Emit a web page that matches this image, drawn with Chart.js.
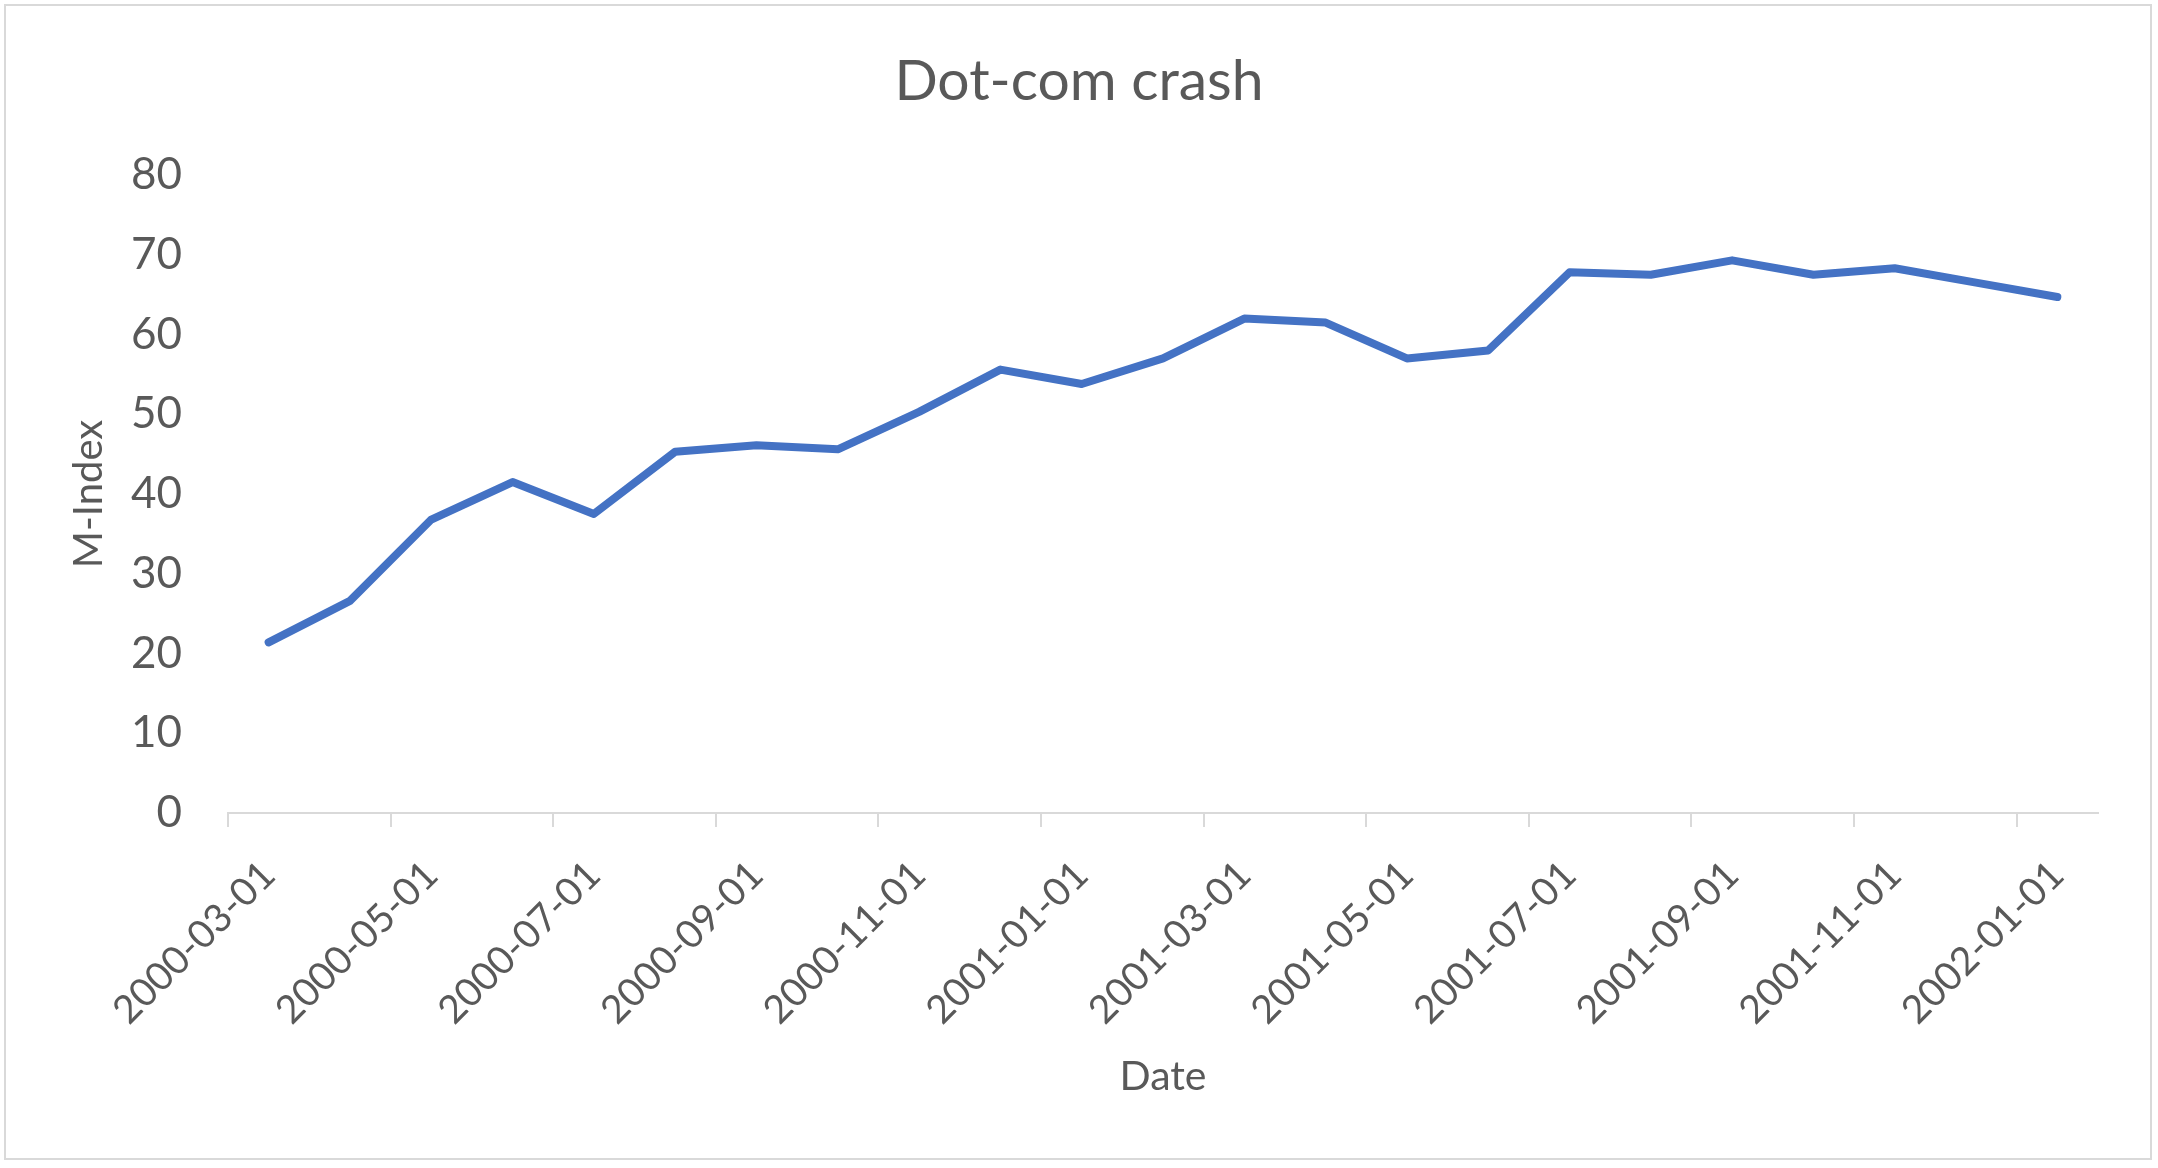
<!DOCTYPE html>
<html>
<head>
<meta charset="utf-8">
<title>Dot-com crash</title>
<script src="https://cdn.jsdelivr.net/npm/chart.js@4.4.1/dist/chart.umd.min.js"></script>
<style>
  html, body { margin: 0; padding: 0; background: #fff; overflow: hidden; }
  #wrap { position: relative; width: 2158px; height: 1168px; }
  #frame {
    position: absolute; left: 4px; top: 4px; width: 2144px; height: 1152px;
    border: 2px solid #d9d9d9; pointer-events: none;
  }
  canvas { position: absolute; left: 0; top: 0; }
</style>
</head>
<body>
<div id="wrap">
  <canvas id="chart" width="2158" height="1168"></canvas>
  <div id="frame"></div>
</div>
<script>
// ── Data ─────────────────────────────────────────────────────
const dates = [
  '2000-03-01', '2000-04-01', '2000-05-01', '2000-06-01', '2000-07-01', '2000-08-01',
  '2000-09-01', '2000-10-01', '2000-11-01', '2000-12-01', '2001-01-01', '2001-02-01',
  '2001-03-01', '2001-04-01', '2001-05-01', '2001-06-01', '2001-07-01', '2001-08-01',
  '2001-09-01', '2001-10-01', '2001-11-01', '2001-12-01', '2002-01-01'
];
const mIndex = [
  21.4, 26.6, 36.8, 41.5, 37.5, 45.3,
  46.1, 45.6, 50.3, 55.6, 53.8, 57.0,
  62.0, 61.5, 57.0, 58.0, 67.8, 67.5,
  69.3, 67.5, 68.3, 66.5, 64.7
];
const yTicks = [0, 10, 20, 30, 40, 50, 60, 70, 80];

const TEXT = '#595959';
const AXIS = '#d9d9d9';
const FONT = 'Lato';

// only every second month gets a label and a tick mark
const everyOther = i => i % 2 === 0;

// ── Chart ────────────────────────────────────────────────────
function draw() {
  new Chart(document.getElementById('chart'), {
    type: 'line',
    data: {
      labels: dates,
      datasets: [{
        label: 'M-Index',
        data: mIndex,
        borderColor: '#4472c4',
        borderWidth: 8,
        borderCapStyle: 'round',
        borderJoinStyle: 'round',
        pointRadius: 0,
        tension: 0,
        fill: false
      }]
    },
    options: {
      responsive: false,
      devicePixelRatio: 1,
      animation: false,
      layout: { padding: 0 },
      plugins: {
        legend: { display: false },
        tooltip: { enabled: false },
        title: {
          display: true,
          text: 'Dot-com crash',
          color: TEXT,
          font: { family: FONT, size: 57, weight: 'normal' },
          padding: { top: 47, bottom: 59.6 }
        }
      },
      scales: {
        x: {
          type: 'category',
          offset: true,
          afterFit: s => { s.height = 355; },
          border: { display: true, color: AXIS, width: 2 },
          grid: {
            offset: true,
            drawOnChartArea: false,
            drawTicks: true,
            tickLength: 14,
            lineWidth: 2,
            color: ctx => everyOther(ctx.index) ? AXIS : 'rgba(0,0,0,0)',
            tickColor: ctx => everyOther(ctx.index) ? AXIS : 'rgba(0,0,0,0)'
          },
          ticks: {
            autoSkip: false,
            minRotation: 45,
            maxRotation: 45,
            padding: 25,
            color: TEXT,
            font: { family: FONT, size: 39 },
            callback: function (v, i) { return everyOther(i) ? this.getLabelForValue(v) : ''; }
          },
          title: {
            display: true,
            text: 'Date',
            color: TEXT,
            font: { family: FONT, size: 41 },
            padding: { top: 0, bottom: 67 }
          }
        },
        y: {
          min: yTicks[0],
          max: yTicks[yTicks.length - 1],
          afterFit: s => { s.width = 228; },
          afterBuildTicks: s => { s.ticks = yTicks.map(v => ({ value: v })); },
          border: { display: false },
          grid: { display: false, drawTicks: false },
          ticks: {
            padding: 46,
            color: TEXT,
            font: { family: FONT, size: 44 }
          },
          title: {
            display: true,
            text: 'M-Index',
            color: TEXT,
            font: { family: FONT, size: 40 },
            padding: { top: 65.5, bottom: 0 }
          }
        },
        // empty right-hand box so the title stays centred on the whole frame
        yPad: {
          position: 'right',
          display: true,
          afterFit: s => { s.width = 60; },
          border: { display: false },
          grid: { display: false, drawTicks: false },
          ticks: { display: false }
        }
      }
    }
  });
}

// ── Init ─────────────────────────────────────────────────────
Promise.all([
  document.fonts.load(`57px ${FONT}`),
  document.fonts.load(`44px ${FONT}`)
]).then(draw, draw);
</script>
</body>
</html>
